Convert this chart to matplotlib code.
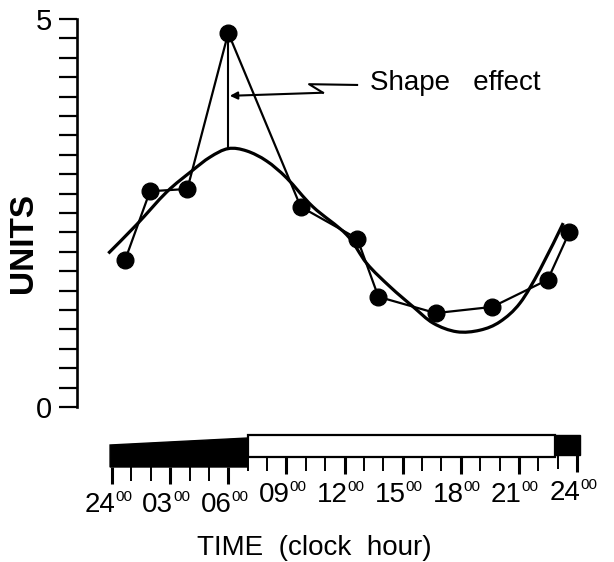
import numpy as np
import matplotlib.pyplot as plt
from matplotlib.path import Path
from matplotlib.patches import PathPatch, Polygon, Rectangle
from matplotlib.transforms import offset_copy

plt.rcParams['font.family'] = ['Liberation Sans', 'DejaVu Sans']
NARROW = ['Liberation Sans Narrow', 'Liberation Sans', 'DejaVu Sans']

# Sampling times (clock hour) and measured values
hours = [0.67, 1.96, 3.89, 6.0, 9.74, 12.66, 13.75, 16.71, 19.63, 22.49, 23.6]
units = [1.89, 2.78, 2.81, 4.82, 2.58, 2.17, 1.42, 1.21, 1.29, 1.64, 2.25]

# Fitted rhythm
fit_hours = [-0.19, 1.27, 2.82, 4.11, 5.06, 6.0, 6.95, 7.98, 9.02, 10.37, 12.11,
             13.15, 14.35, 15.55, 16.58, 17.79, 18.99, 20.03, 21.06, 22.09, 23.29]
fit_units = [1.98, 2.35, 2.77, 3.04, 3.22, 3.33, 3.30, 3.17, 2.95, 2.58, 2.22,
             1.85, 1.55, 1.29, 1.08, 0.97, 0.99, 1.10, 1.34, 1.77, 2.37]

peak_idx = 3
peak_fit = 3.33

# Light/dark schedule (clock hour)
lights_on = 7.0
lights_off = 22.86
label_hours = [0, 3, 6, 9, 12, 15, 18, 21, 24]
label_text = ['24', '03', '06', '09', '12', '15', '18', '21', '24']


def smooth_path(xs, ys):
    """Catmull-Rom through the points, as cubic Bezier segments"""
    pts = np.column_stack([xs, ys])
    verts, codes = [pts[0]], [Path.MOVETO]
    n = len(pts)
    for i in range(n - 1):
        p0, p1 = pts[max(i - 1, 0)], pts[i]
        p2, p3 = pts[i + 1], pts[min(i + 2, n - 1)]
        verts += [p1 + (p2 - p0) / 6, p2 - (p3 - p1) / 6, p2]
        codes += [Path.CURVE4] * 3
    return Path(verts, codes)


fig = plt.figure(figsize=(6.14, 5.62), dpi=100)
xlim = ((77 - 112) / 19.375, (600 - 112) / 19.375)

# Main panel
ax = fig.add_axes([77 / 614, 155 / 562, 523 / 614, 388 / 562])
ax.set_xlim(*xlim)
ax.set_ylim(0, 5)
for side in ['top', 'right', 'bottom']:
    ax.spines[side].set_visible(False)
ax.spines['left'].set_linewidth(1.9)
ax.set_xticks([])
ax.set_yticks([0, 5])
ax.set_yticklabels(['0', '5'], family=NARROW, fontsize=21)
ax.set_yticks(np.arange(0.25, 5, 0.25), minor=True)
ax.tick_params(axis='y', which='both', direction='out', length=13, width=1.6, pad=5)

ax.add_patch(PathPatch(smooth_path(fit_hours, fit_units), fill=False,
                       lw=2.3, color='black', capstyle='butt'))
ax.plot(hours, units, '-', color='black', lw=1.6, marker='o', ms=12,
        clip_on=False)

# Shape effect: peak point down to the fitted curve
ax.plot([hours[peak_idx], hours[peak_idx]], [units[peak_idx], peak_fit],
        color='black', lw=1.5)
ax.plot([12.65, 10.17, 10.89], [4.15, 4.16, 4.05], color='black', lw=1.5)
ax.annotate('', xy=(6.08, 4.01), xytext=(10.89, 4.05),
            arrowprops=dict(arrowstyle='-|>', color='black', lw=1.5,
                            mutation_scale=11, shrinkA=0, shrinkB=0))
ax.text(13.32, 4.18, 'Shape   effect', ha='left', va='center', fontsize=20)

fig.text(24 / 614, 1 - 243 / 562, 'UNITS', rotation=90, ha='center',
         va='center', fontsize=24, fontweight='bold')

# Time scale with light/dark bar (y in pixel rows, downward)
axb = fig.add_axes([77 / 614, 37 / 562, 523 / 614, 95 / 562])
axb.set_xlim(*xlim)
axb.set_ylim(525, 430)
axb.axis('off')

axb.add_patch(Polygon([(-0.1, 445), (lights_on, 438), (lights_on, 467), (-0.1, 467)],
                      closed=True, facecolor='black', edgecolor='black', lw=1))
axb.add_patch(Rectangle((lights_on, 435), lights_off - lights_on, 22,
                        facecolor='white', edgecolor='black', lw=1.6))
axb.add_patch(Rectangle((lights_off, 435), 24.15 - lights_off, 20,
                        facecolor='black', edgecolor='black', lw=1))


def bar_bottom(h):
    if h < lights_on:
        return 467
    return 457 if h < lights_off else 455


for h in range(25):
    major = h % 3 == 0
    y0 = bar_bottom(h)
    axb.plot([h, h], [y0, y0 + (17 if major else 14)], color='black',
             lw=2.2 if major else 1.4, solid_capstyle='butt')

digits_tr = offset_copy(axb.transData, fig=fig, x=3, y=0, units='dots')
for h, lab in zip(label_hours, label_text):
    base = bar_bottom(h) + 45
    axb.text(h, base, lab, transform=digits_tr, ha='right', va='baseline',
             family=NARROW, fontsize=20)
    axb.text(h, base - 22, '00', transform=digits_tr, ha='left', va='top',
             fontsize=11)

fig.text(314 / 614, 1 - 548 / 562, 'TIME  (clock  hour)', ha='center',
         va='center', fontsize=20)

fig.savefig('out.png', dpi=100)
